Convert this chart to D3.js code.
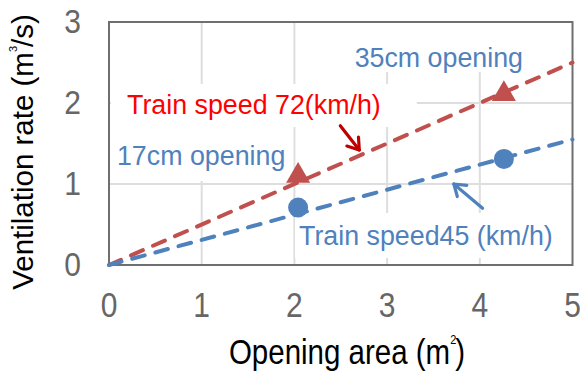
<!DOCTYPE html>
<html>
<head>
<meta charset="utf-8">
<script src="https://cdn.jsdelivr.net/npm/d3@7"></script>
<style>
  html, body { margin: 0; padding: 0; background: #fff; }
  svg { display: block; font-family: "Liberation Sans", Arial, sans-serif; }
</style>
</head>
<body>
<svg id="chart" width="583" height="371"></svg>
<script>
// ---- data ----
const xTicks = [0, 1, 2, 3, 4, 5];
const yTicks = [0, 1, 2, 3];
const openingArea = [2.04, 4.26];       // m² (17cm, 35cm openings)
const speed72 = [1.10, 2.11];           // ventilation rate, train 72 km/h
const speed45 = [0.71, 1.31];           // ventilation rate, train 45 km/h
const trendX = [0, 5];
const trend72 = [0, 2.5];
const trend45 = [0, 1.55];
const xTitle = "Opening area (m";
const yTitle = "Ventilation rate (m";

// ---- layout ----
const svg = d3.select("#chart");
const x = d3.scaleLinear().domain([0, 5]).range([109, 572.5]);
const y = d3.scaleLinear().domain([0, 3]).range([265, 22]);

const RED = "#c0504d", BLUE = "#4f81bd";

// gridlines
const grid = svg.append("g");
grid.selectAll("line.vx").data(xTicks.slice(1, -1)).join("line")
  .attr("x1", d => x(d)).attr("x2", d => x(d)).attr("y1", y(3)).attr("y2", y(0))
  .attr("stroke", "#dedede").attr("stroke-width", 2);
grid.selectAll("line.hy").data(yTicks.slice(1, -1)).join("line")
  .attr("x1", x(0)).attr("x2", x(5)).attr("y1", d => y(d)).attr("y2", d => y(d))
  .attr("stroke", "#dedede").attr("stroke-width", 2);

// annotation definitions (data-unit anchors)
const notes = [
  { text: "Train speed 72(km/h)", ax: 0.195, ay: 1.865, color: "#ff0000", pad: [16, 36, 12, 13] },
  { text: "17cm opening", ax: 0.086, ay: 1.235, color: BLUE, pad: [6, 8, 22, 16] },
  { text: "35cm opening", ax: 2.65, ay: 2.444, color: BLUE, pad: [14, 10, 32, 5] },
  { text: "Train speed45 (km/h)", ax: 2.05, ay: 0.247, color: BLUE, pad: [4, 8, 14, 13] }
];

const boxG = svg.append("g");
const textG = svg.append("g");
notes.forEach(n => {
  const t = textG.append("text")
    .attr("x", x(n.ax)).attr("y", y(n.ay))
    .attr("font-size", 26.8).attr("fill", n.color)
    .text(n.text);
  const b = t.node().getBBox();
  // pad: left, right, top, bottom
  boxG.append("rect")
    .attr("x", b.x - n.pad[0]).attr("y", b.y - n.pad[2] + 6)
    .attr("width", b.width + n.pad[0] + n.pad[1])
    .attr("height", b.height + n.pad[2] + n.pad[3] - 12)
    .attr("fill", "#fff");
});

// plot border
svg.append("rect")
  .attr("x", x(0)).attr("y", y(3)).attr("width", x(5) - x(0)).attr("height", y(0) - y(3))
  .attr("fill", "none").attr("stroke", "#6f6f6f").attr("stroke-width", 2);

// trend lines (dashed)
const line = d3.line().x(d => x(d[0])).y(d => y(d[1]));
const linesG = svg.append("g");
[[trend72, RED], [trend45, BLUE]].forEach(([vals, col]) => {
  linesG.append("path")
    .attr("d", line(trendX.map((v, i) => [v, vals[i]])))
    .attr("fill", "none").attr("stroke", col).attr("stroke-width", 4)
    .attr("stroke-dasharray", "13,11").attr("stroke-linecap", "round");
});

// markers
svg.append("g").selectAll("path").data(openingArea).join("path")
  .attr("transform", (d, i) => `translate(${x(d)},${y(speed72[i])})`)
  .attr("d", d3.symbol().type(d3.symbolTriangle).size(250))
  .attr("fill", RED);
svg.append("g").selectAll("circle").data(openingArea).join("circle")
  .attr("cx", d => x(d)).attr("cy", (d, i) => y(speed45[i]))
  .attr("r", 10).attr("fill", BLUE);

// arrows
function arrow(x1, y1, x2, y2, col) {
  const g = svg.append("g").attr("stroke", col).attr("stroke-width", 3.2)
    .attr("fill", "none").attr("stroke-linecap", "round").attr("stroke-linejoin", "round");
  const X1 = x(x1), Y1 = y(y1), X2 = x(x2), Y2 = y(y2);
  g.append("line").attr("x1", X1).attr("y1", Y1).attr("x2", X2).attr("y2", Y2);
  const a = Math.atan2(Y2 - Y1, X2 - X1), L = 13, s = 0.6;
  const p1 = [X2 - L * Math.cos(a - s), Y2 - L * Math.sin(a - s)];
  const p2 = [X2 - L * Math.cos(a + s), Y2 - L * Math.sin(a + s)];
  g.append("path").attr("d", `M${p1[0]},${p1[1]}L${X2},${Y2}L${p2[0]},${p2[1]}`);
}
arrow(2.495, 1.72, 2.70, 1.42, "#c00000");
arrow(4.03, 0.70, 3.72, 1.00, BLUE);

// bring text to front
textG.raise();

// tick labels
svg.append("g").selectAll("text").data(xTicks).join("text")
  .attr("transform", d => `translate(${x(d)},317) scale(1,1.16)`)
  .attr("text-anchor", "middle").attr("font-size", 30).attr("fill", "#666")
  .text(d => d);
svg.append("g").selectAll("text").data(yTicks).join("text")
  .attr("transform", d => `translate(81,${y(d) + 11}) scale(1,1.1)`)
  .attr("text-anchor", "end").attr("font-size", 30).attr("fill", "#666")
  .text(d => d);

// axis titles
const xt = svg.append("text")
  .attr("transform", "translate(347,364) scale(1,1.16)")
  .attr("text-anchor", "middle").attr("font-size", 29.5).attr("fill", "#000");
xt.append("tspan").text(xTitle);
xt.append("tspan").attr("font-size", 11).attr("dx", 0).attr("dy", -17).text("2");
xt.append("tspan").attr("dy", 17).attr("dx", -1).text(")");

const yt = svg.append("text")
  .attr("transform", "translate(33,152) rotate(-90)")
  .attr("text-anchor", "middle").attr("font-size", 29.5).attr("fill", "#000");
yt.append("tspan").text(yTitle);
yt.append("tspan").attr("font-size", 11).attr("dx", 0).attr("dy", -16).text("3");
yt.append("tspan").attr("dy", 16).attr("dx", -1).text("/s)");
</script>
</body>
</html>
